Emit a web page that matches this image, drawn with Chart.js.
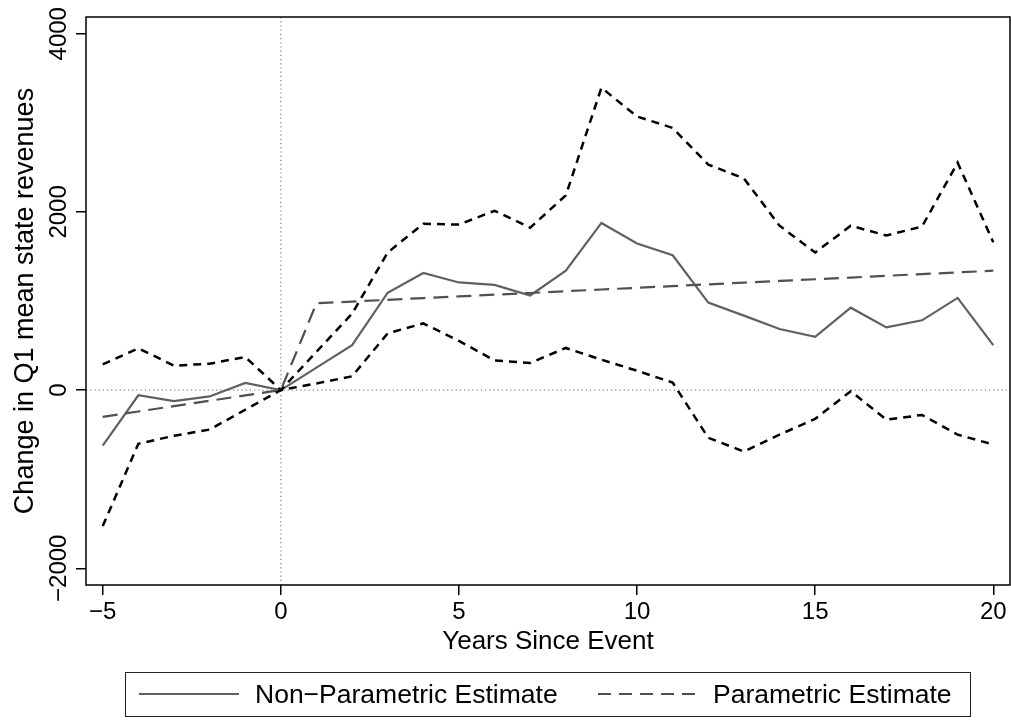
<!DOCTYPE html>
<html>
<head>
<meta charset="utf-8">
<script src="https://cdn.jsdelivr.net/npm/chart.js@4/dist/chart.umd.min.js"></script>
<style>
  body { margin: 0; background: #fff; }
  #wrap { position: relative; width: 1011px; height: 721px; }
  #legend {
    position: absolute; left: 125px; top: 672px; width: 846px; height: 45px;
    border: 1.5px solid #222; box-sizing: border-box;
    font-family: "Liberation Sans", Arial, sans-serif; font-size: 26.5px; color: #000;
  }
  #legend svg, #legend span { position: absolute; }
  #legend span { top: 6px; line-height: 30px; white-space: nowrap; }
</style>
</head>
<body>
<div id="wrap">
  <canvas id="eventChart" width="1011" height="721"></canvas>
  <div id="legend">
    <svg style="left:12px; top:16px" width="102" height="10"><line x1="1" y1="5" x2="101" y2="5" stroke="#606060" stroke-width="2"/></svg>
    <span style="left:129px">Non&#8722;Parametric Estimate</span>
    <svg style="left:471px; top:16px" width="102" height="10"><line x1="1" y1="5" x2="101" y2="5" stroke="#505050" stroke-width="2" stroke-dasharray="13 8"/></svg>
    <span style="left:587px">Parametric Estimate</span>
  </div>
</div>
<script>
// Years relative to the event
const years = [-5, -4, -3, -2, -1, 0, 1, 2, 3, 4, 5, 6, 7, 8, 9, 10, 11, 12, 13, 14, 15, 16, 17, 18, 19, 20];

// Non-parametric estimate with its confidence band
const nonParam = [-624, -58, -124, -71, 80, 0, 252, 504, 1093, 1314, 1208, 1181, 1062, 1341, 1876, 1646, 1513, 982, 836, 686, 597, 925, 704, 783, 1035, 504];
const upperCI = [288, 469, 274, 296, 372, 0, 430, 858, 1544, 1867, 1858, 2013, 1823, 2186, 3394, 3071, 2943, 2531, 2376, 1845, 1544, 1845, 1735, 1836, 2553, 1659];
const lowerCI = [-1527, -602, -513, -443, -221, 0, 75, 155, 637, 748, 553, 332, 305, 473, 341, 217, 84, -535, -690, -500, -323, -13, -332, -279, -500, -611];

// Parametric (trend break) estimate
const param = [-300, -240, -180, -120, -60, 0, 975, 994, 1013, 1033, 1052, 1071, 1090, 1110, 1129, 1148, 1167, 1187, 1206, 1225, 1244, 1263, 1283, 1302, 1321, 1340];

// Axis ticks
const xTicks = [-5, 0, 5, 10, 15, 20];
const yTicks = [-2000, 0, 2000, 4000];

const font = '"Liberation Sans", Arial, sans-serif';

function points(values) {
    return years.map((x, i) => ({ x: x, y: values[i] }));
}

function minusSign(v) {
    return String(v).replace('-', '\u2212');
}

// Dotted reference lines at zero and frame around the plot
const framePlugin = {
    id: 'frame',
    beforeDatasetsDraw(chart) {
        const { ctx, chartArea, scales } = chart;
        const x0 = scales.x.getPixelForValue(0);
        const y0 = scales.y.getPixelForValue(0);
        ctx.save();
        ctx.strokeStyle = '#808080';
        ctx.lineWidth = 1.2;
        ctx.setLineDash([1.2, 3]);
        ctx.beginPath();
        ctx.moveTo(x0, chartArea.top);
        ctx.lineTo(x0, chartArea.bottom);
        ctx.moveTo(chartArea.left, y0);
        ctx.lineTo(chartArea.right, y0);
        ctx.stroke();
        ctx.restore();
    },
    afterDraw(chart) {
        const { ctx, chartArea } = chart;
        ctx.save();
        ctx.strokeStyle = '#000';
        ctx.lineWidth = 1.5;
        ctx.strokeRect(chartArea.left, chartArea.top, chartArea.right - chartArea.left, chartArea.bottom - chartArea.top);
        ctx.restore();
    }
};

new Chart(document.getElementById('eventChart'), {
    type: 'line',
    data: {
        datasets: [
            {
                label: 'Upper bound',
                data: points(upperCI),
                borderColor: '#000',
                borderWidth: 2.5,
                borderDash: [8, 6]
            },
            {
                label: 'Lower bound',
                data: points(lowerCI),
                borderColor: '#000',
                borderWidth: 2.5,
                borderDash: [8, 6]
            },
            {
                label: 'Parametric Estimate',
                data: points(param),
                borderColor: '#505050',
                borderWidth: 2.2,
                borderDash: [15, 8]
            },
            {
                label: 'Non-Parametric Estimate',
                data: points(nonParam),
                borderColor: '#606060',
                borderWidth: 2.2
            }
        ]
    },
    options: {
        responsive: false,
        animation: false,
        layout: { padding: { top: 17, right: 1, bottom: 64, left: 0 } },
        elements: { point: { radius: 0 }, line: { tension: 0 } },
        plugins: {
            legend: { display: false },
            tooltip: { enabled: false }
        },
        scales: {
            x: {
                type: 'linear',
                min: -5.47,
                max: 20.47,
                afterBuildTicks: scale => { scale.ticks = xTicks.map(v => ({ value: v })); },
                afterFit: scale => { scale.height = 72; },
                border: { display: false },
                grid: { drawOnChartArea: false, drawTicks: true, tickLength: 10, color: '#000', lineWidth: 1.5 },
                ticks: {
                    color: '#000',
                    font: { family: font, size: 24 },
                    padding: 3,
                    maxRotation: 0,
                    callback: v => minusSign(v)
                },
                title: {
                    display: true,
                    text: 'Years Since Event',
                    color: '#000',
                    font: { family: font, size: 26 },
                    padding: 0
                }
            },
            y: {
                min: -2188,
                max: 4188,
                afterBuildTicks: scale => { scale.ticks = yTicks.map(v => ({ value: v })); },
                afterFit: scale => { scale.width = 86; },
                border: { display: false },
                grid: { drawOnChartArea: false, drawTicks: true, tickLength: 10, color: '#000', lineWidth: 1.5 },
                ticks: {
                    color: '#000',
                    font: { family: font, size: 24 },
                    minRotation: 90,
                    maxRotation: 90,
                    crossAlign: 'center',
                    padding: -17,
                    callback: v => minusSign(v)
                },
                title: {
                    display: true,
                    text: 'Change in Q1 mean state revenues',
                    color: '#000',
                    font: { family: font, size: 27 },
                    padding: { top: 9 }
                }
            }
        }
    },
    plugins: [framePlugin]
});
</script>
</body>
</html>
